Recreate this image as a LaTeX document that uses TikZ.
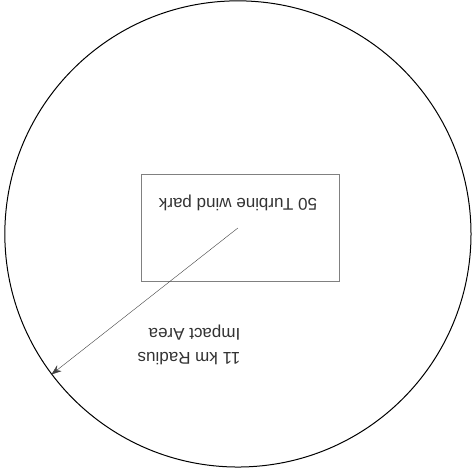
\documentclass[tikz,border=0pt]{standalone}
\usepackage{fontspec}
\setmainfont{Liberation Sans}
\usetikzlibrary{arrows.meta,positioning}

\begin{document}
\begin{tikzpicture}[
    zone/.style={draw, circle, line width=1pt, minimum size=16.38cm, inner sep=0pt},
    box/.style={draw=gray, thin, minimum width=6.96cm, minimum height=3.76cm},
    txt/.style={rotate=180, align=left, text=black!80, font=\fontsize{17}{23.5}\selectfont},
    arr/.style={-{Stealth[length=3.6mm, width=2.6mm]}, thin, draw=black!75}
]
\useasboundingbox (-8.36,-8.36) rectangle (8.26,8.22);
% Impact area
\node[zone] (area) at (0,0) {};
% Wind park
\node[box] (park) at (0.07,0.23) {};
\node[txt] (parklabel) at (0,1.09) {50 Turbine wind park};
% Radius
\coordinate (hub) at (0,0.21);
\draw[arr] (hub) -- (area.217);
\node[txt] (radius) at (-1.72,-3.90) {11 km Radius\\Impact Area};
\end{tikzpicture}
\end{document}
